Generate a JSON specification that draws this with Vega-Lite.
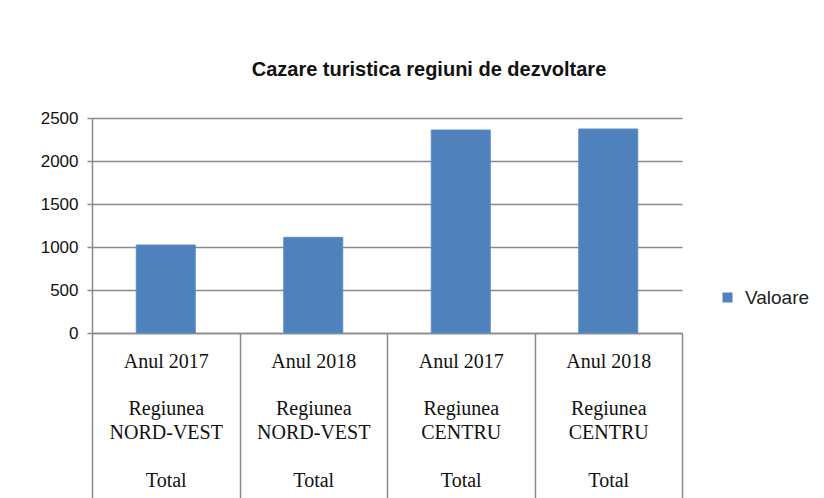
{
  "$schema": "https://vega.github.io/schema/vega-lite/v6.json",
  "width": 590,
  "height": 215,
  "autosize": {"type": "none"},
  "padding": {"left": 92, "top": 118, "right": 142, "bottom": 165},
  "background": "white",
  "title": {
    "text": "Cazare turistica regiuni de dezvoltare",
    "font": "Liberation Sans",
    "fontSize": 20,
    "fontWeight": "bold",
    "color": "#111111",
    "anchor": "middle",
    "dx": 42,
    "offset": 29
  },
  "data": {
    "values": [
      {"categorie": "Anul 2017|\u200b|Regiunea|NORD-VEST|\u200b|Total", "serie": "Valoare", "valoare": 1023},
      {"categorie": "Anul 2018|\u200b|Regiunea|NORD-VEST|\u200b|Total", "serie": "Valoare", "valoare": 1112},
      {"categorie": "Anul 2017|\u200b|Regiunea|CENTRU|\u200b|Total", "serie": "Valoare", "valoare": 2360},
      {"categorie": "Anul 2018|\u200b|Regiunea|CENTRU|\u200b|Total", "serie": "Valoare", "valoare": 2372}
    ]
  },
  "mark": {"type": "bar", "stroke": "#5b8ccb", "strokeWidth": 1, "width": {"band": 0.4}},
  "encoding": {
    "x": {
      "field": "categorie",
      "type": "nominal",
      "sort": null,
      "scale": {"paddingInner": 0, "paddingOuter": 0},
      "axis": {
        "title": null,
        "labelAngle": 0,
        "labelExpr": "split(datum.label, '|')",
        "labelFont": "Liberation Serif",
        "labelFontSize": 20,
        "labelColor": "#111111",
        "labelLineHeight": 23.8,
        "labelBaseline": "top",
        "labelPadding": -152,
        "labelOverlap": false,
        "labelLimit": 200,
        "tickBand": "extent",
        "tickSize": 170,
        "tickColor": "#8a8a8a",
        "tickWidth": 1.5,
        "domainColor": "#8a8a8a",
        "domainWidth": 1.5
      }
    },
    "y": {
      "field": "valoare",
      "type": "quantitative",
      "scale": {"domain": [0, 2500], "nice": false},
      "axis": {
        "title": null,
        "values": [0, 500, 1000, 1500, 2000, 2500],
        "format": "d",
        "labelFont": "Liberation Sans",
        "labelFontSize": 17,
        "labelColor": "#111111",
        "labelPadding": 9,
        "tickSize": 5,
        "tickColor": "#8a8a8a",
        "tickWidth": 1.5,
        "domainColor": "#8a8a8a",
        "domainWidth": 1.5,
        "grid": true,
        "gridColor": "#8a8a8a",
        "gridWidth": 1.5
      }
    },
    "color": {
      "field": "serie",
      "type": "nominal",
      "scale": {"range": ["#4F81BD"]},
      "legend": {
        "title": null,
        "orient": "none",
        "legendX": 626,
        "legendY": 170,
        "symbolType": "square",
        "symbolSize": 100,
        "symbolStrokeWidth": 0,
        "labelFont": "Liberation Sans",
        "labelFontSize": 19,
        "labelColor": "#222222",
        "labelOffset": 8
      }
    }
  },
  "config": {"view": {"stroke": null}}
}
